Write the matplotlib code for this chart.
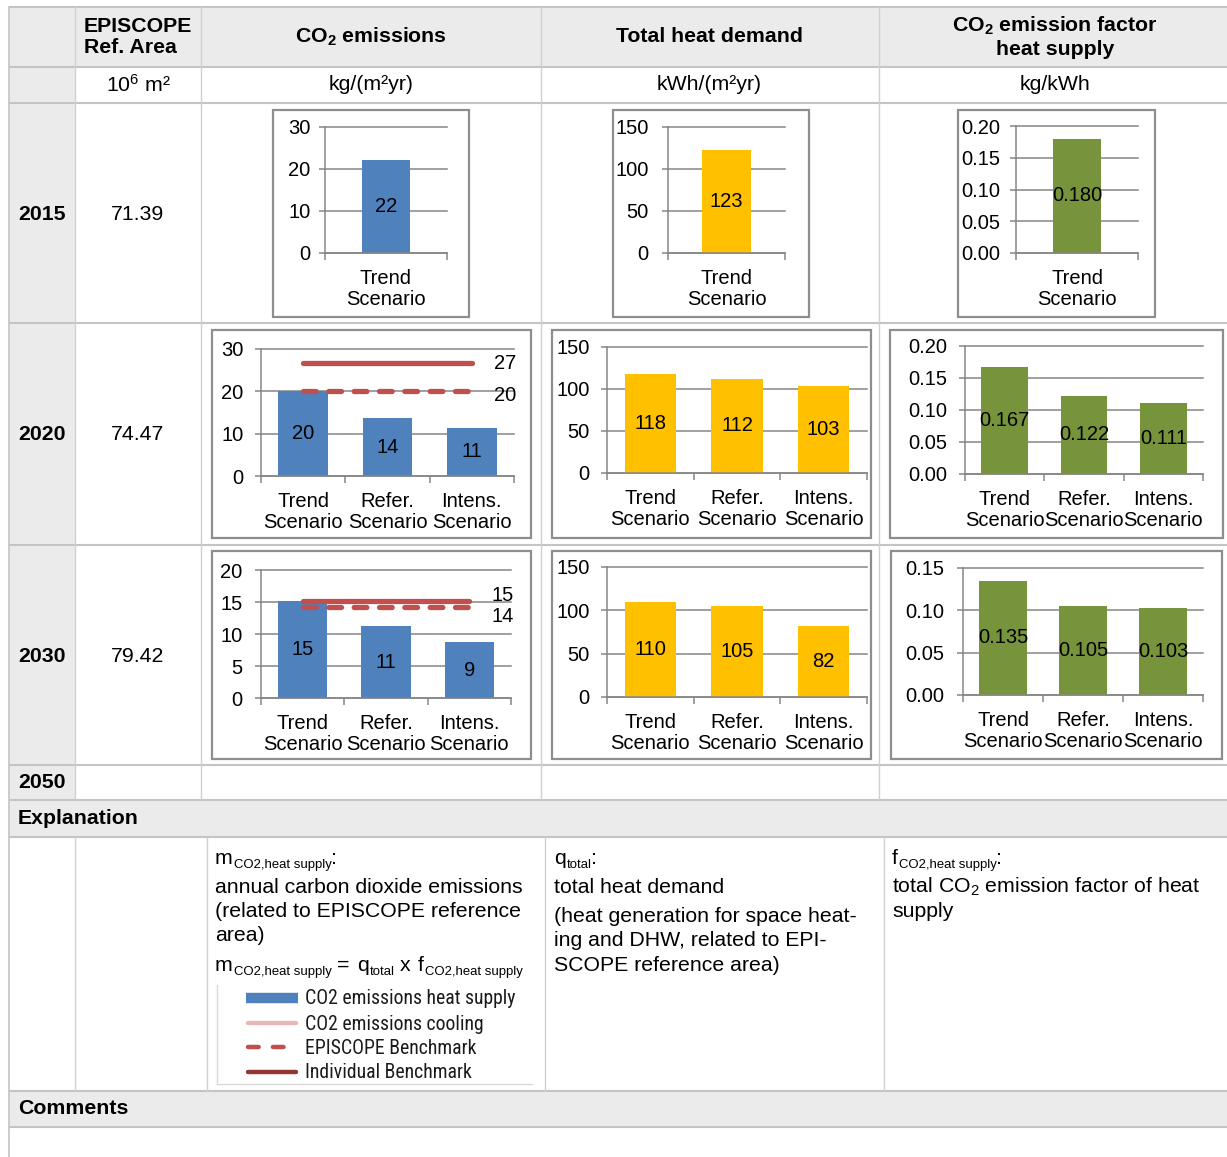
import numpy as np
import matplotlib
matplotlib.use('Agg')
import matplotlib.pyplot as plt
from matplotlib.patches import Rectangle
from matplotlib import font_manager as fm

# ---------------- data ----------------
years = ['2015', '2020', '2030', '2050']
ref_area = ['71.39', '74.47', '79.42', '']
area_header = 'EPISCOPE\nRef. Area'
column_titles = [r'CO$_{\mathbf{2}}$ emissions', 'Total heat demand',
                 r'CO$_{\mathbf{2}}$ emission factor' + '\nheat supply']
units = [r'10$^{\mathregular{6}}$ m²', 'kg/(m²yr)', 'kWh/(m²yr)', 'kg/kWh']

cats_2015 = ['Trend\nScenario']
cats_3 = ['Trend\nScenario', 'Refer.\nScenario', 'Intens.\nScenario']

co2_2015 = [22.1]
co2_2020 = [20.0, 13.6, 11.4]
co2_2030 = [15.2, 11.2, 8.7]
individual_bench_2020 = 26.6
episcope_bench_2020 = 20.1
individual_bench_2030 = 15.2
episcope_bench_2030 = 14.2

heat_2015 = [123]
heat_2020 = [118, 112, 103]
heat_2030 = [110, 105, 82]

fac_2015 = [0.180]
fac_2020 = [0.167, 0.122, 0.111]
fac_2030 = [0.135, 0.105, 0.103]

legend_labels = ['CO2 emissions heat supply', 'CO2 emissions cooling',
                 'EPISCOPE Benchmark', 'Individual Benchmark']

# explanation texts: (text, kind) with kind n = normal, s = subscript, g = space
expl_co2_head = [('m', 'n'), ('CO2,heat supply', 's'), (':', 'n')]
expl_co2_body = ['annual carbon dioxide emissions', '(related to EPISCOPE reference', 'area)']
expl_co2_formula = [('m', 'n'), ('CO2,heat supply', 's'), ('', 'g'), ('=', 'n'), ('', 'g'),
                    ('q', 'n'), ('total', 's'), ('', 'g'), ('x', 'n'), ('', 'g'),
                    ('f', 'n'), ('CO2,heat supply', 's')]
expl_heat_head = [('q', 'n'), ('total', 's'), (':', 'n')]
expl_heat_body = ['total heat demand']
expl_heat_body2 = ['(heat generation for space heat-', 'ing and DHW, related to EPI-',
                   'SCOPE reference area)']
expl_fac_head = [('f', 'n'), ('CO2,heat supply', 's'), (':', 'n')]
expl_fac_body = [r'total CO$_{\mathregular{2}}$ emission factor of heat', 'supply']

# ---------------- style ----------------
W, H = 1227, 1157
plt.rcParams['font.family'] = ['Liberation Sans', 'DejaVu Sans']
plt.rcParams['mathtext.fontset'] = 'custom'
plt.rcParams['mathtext.rm'] = 'Liberation Sans'
plt.rcParams['mathtext.it'] = 'Liberation Sans:italic'
plt.rcParams['mathtext.bf'] = 'Liberation Sans:bold'

names = {f.name for f in fm.fontManager.ttflist}
if 'Liberation Sans Narrow' in names:
    NARROW, NARROW_SIZE = ['Liberation Sans Narrow', 'DejaVu Sans'], 14.4
elif 'Roboto Condensed' in names:
    NARROW, NARROW_SIZE = ['Roboto Condensed', 'DejaVu Sans'], 14.2
else:
    NARROW, NARROW_SIZE = ['Liberation Sans', 'DejaVu Sans'], 12.2

BLUE, GOLD, GREEN = '#4F81BD', '#FFC000', '#77933C'
RED, PINK, DARKRED = '#C0504D', '#E6B9B8', '#943634'
GRID, BOX = '#868686', '#8E8E8E'
CELL_BG, TABLE_LINE = '#EBEBEB', '#C4C4C4'
TXT = 15.3
CHART_TXT = 14.5

fig = plt.figure(figsize=(W / 100, H / 100), dpi=100)
base = fig.add_axes([0, 0, 1, 1])
base.set_xlim(0, W)
base.set_ylim(H, 0)
base.axis('off')
renderer = fig.canvas.get_renderer()


def rich(x, y, parts, fontsize):
    """Draw text pieces with subscripts along a baseline (base axes units = pixels)."""
    space = 0.278 * fontsize * 100 / 72
    for txt, kind in parts:
        if kind == 'g':
            x += space
            continue
        if kind == 's':
            t = base.text(x, y + 4, txt, fontsize=fontsize * 0.62, ha='left', va='baseline')
            x += t.get_window_extent(renderer).width - 1.0
        else:
            t = base.text(x, y, txt, fontsize=fontsize, ha='left', va='baseline')
            x += t.get_window_extent(renderer).width + 1.5


# ---------------- table ----------------
for (x0, y0, x1, y1) in [(9, 7, W, 67), (9, 67, 75, 800), (9, 800, W, 837), (9, 1091, W, 1127)]:
    base.add_patch(Rectangle((x0, y0), x1 - x0, y1 - y0, color=CELL_BG, lw=0, zorder=0))

for y in [7, 67, 103, 323, 545, 765, 800, 837, 1091, 1127]:
    base.plot([9, W], [y, y], color=TABLE_LINE, lw=1.5, zorder=1, solid_capstyle='butt')
base.plot([9, 9], [7, H], color=TABLE_LINE, lw=1.2, zorder=1)
for x in [75, 201, 541, 879]:
    base.plot([x, x], [7, 800], color='#D0D0D0', lw=1.0, zorder=1)
for x in [75, 207, 545, 884]:
    base.plot([x, x], [837, 1091], color='#D0D0D0', lw=1.0, zorder=1)

col_centers = [138, 371, 709, 1055]
base.text(col_centers[0], 37, area_header, ha='center', va='center', multialignment='left',
          fontsize=TXT, fontweight='bold', linespacing=1.17)
for cx, t in zip(col_centers[1:], column_titles):
    base.text(cx, 37, t, ha='center', va='center', multialignment='center',
              fontsize=TXT, fontweight='bold', linespacing=1.17)
for cx, u in zip(col_centers, units):
    base.text(cx, 85, u, ha='center', va='center', fontsize=TXT)

row_centers = [214, 435, 656, 783]
for yc, yr, ar in zip(row_centers, years, ref_area):
    base.text(18, yc, yr, ha='left', va='center', fontsize=TXT, fontweight='bold')
    if ar:
        base.text(col_centers[0], yc, ar, ha='center', va='center', fontsize=TXT)

base.text(18, 819, 'Explanation', ha='left', va='center', fontsize=TXT, fontweight='bold')
base.text(18, 1109, 'Comments', ha='left', va='center', fontsize=TXT, fontweight='bold')

# explanation texts (baselines)
rich(215, 864, expl_co2_head, TXT)
for i, line in enumerate(expl_co2_body):
    base.text(215, 893 + i * 24, line, ha='left', va='baseline', fontsize=TXT)
rich(215, 971, expl_co2_formula, TXT)

rich(554, 864, expl_heat_head, TXT)
base.text(554, 893, expl_heat_body[0], ha='left', va='baseline', fontsize=TXT)
for i, line in enumerate(expl_heat_body2):
    base.text(554, 922 + i * 24.5, line, ha='left', va='baseline', fontsize=TXT)

rich(892, 864, expl_fac_head, TXT)
for i, line in enumerate(expl_fac_body):
    base.text(892, 893 + i * 24, line, ha='left', va='baseline', fontsize=TXT)

# legend picture
base.plot([217, 217], [985, 1084], color='#D9D9D9', lw=1.0)
base.plot([217, 532], [1084, 1084], color='#D9D9D9', lw=1.0)
leg_y = [998, 1023, 1047, 1072]
base.plot([246, 298], [leg_y[0], leg_y[0]], color=BLUE, lw=7.5, solid_capstyle='butt')
base.plot([248, 296], [leg_y[1], leg_y[1]], color=PINK, lw=3.2, solid_capstyle='round')
base.plot([248, 296], [leg_y[2], leg_y[2]], color=RED, lw=3.2, linestyle=(0, (2.4, 3.2)),
          dash_capstyle='round')
base.plot([248, 296], [leg_y[3], leg_y[3]], color=DARKRED, lw=3.2, solid_capstyle='round')
for y, lab in zip(leg_y, legend_labels):
    base.text(305, y + 1, lab, ha='left', va='center', fontsize=NARROW_SIZE, family=NARROW,
              color='#1A1A1A')


# ---------------- charts ----------------
def chart(box, area, cats, vals, color, ymax, step, tick_fmt, val_fmt, width, ypad,
          benches=(), bench_offsets=()):
    bx0, by0, bx1, by1 = box
    base.add_patch(Rectangle((bx0, by0), bx1 - bx0, by1 - by0, fill=False, ec=BOX, lw=1.6,
                             zorder=5))
    x0, y0, x1, y1 = area
    ax = fig.add_axes([x0 / W, 1 - y1 / H, (x1 - x0) / W, (y1 - y0) / H])
    ax.set_facecolor('none')
    n = len(vals)
    xs = np.arange(n)
    ticks = np.arange(0, ymax + step * 0.5, step)
    for t in ticks:
        ax.axhline(t, color=GRID, lw=1.1, zorder=0.5, clip_on=False)
    ax.bar(xs, vals, width=width, color=color, zorder=2)
    for xi, v in zip(xs, vals):
        ax.text(xi, v / 2, val_fmt.format(v), ha='center', va='center', fontsize=CHART_TXT,
                zorder=4)
    for (b, style), (dx, dy) in zip(benches, bench_offsets):
        if style == 'solid':
            ax.plot([xs[0], xs[-1]], [b, b], color=RED, lw=3.8, solid_capstyle='round', zorder=3)
        else:
            ax.plot([xs[0], xs[-1]], [b, b], color=RED, lw=3.8, linestyle=(0, (2.4, 2.4)),
                    dash_capstyle='round', zorder=3)
        ax.annotate('{:.0f}'.format(b), xy=(xs[-1], b), xytext=(dx, dy),
                    textcoords='offset points', ha='left', va='center', fontsize=CHART_TXT,
                    annotation_clip=False)
    ax.set_xlim(-0.5, n - 0.5)
    ax.set_ylim(0, ymax)
    for s in ['top', 'right']:
        ax.spines[s].set_visible(False)
    for s in ['left', 'bottom']:
        ax.spines[s].set_color(GRID)
        ax.spines[s].set_linewidth(1.1)
    ax.set_yticks(ticks, labels=[tick_fmt.format(t) for t in ticks])
    ax.tick_params(axis='y', length=4, width=1.1, color=GRID, pad=ypad, labelsize=CHART_TXT)
    ax.set_xticks(np.arange(n + 1) - 0.5, labels=[''] * (n + 1))
    ax.set_xticks(xs, labels=cats, minor=True)
    ax.tick_params(axis='x', which='major', length=5, width=1.1, color=GRID)
    ax.tick_params(axis='x', which='minor', length=0, pad=11.5, labelsize=CHART_TXT)
    for lbl in ax.get_xticklabels(minor=True):
        lbl.set_linespacing(1.12)
    return ax


# 2015
chart((273, 110, 469, 317), (325, 127, 447, 253), cats_2015, co2_2015, BLUE, 30, 10,
      '{:.0f}', '{:.0f}', 0.4, 6.5)
chart((613, 110, 809, 317), (668, 127, 785, 253), cats_2015, heat_2015, GOLD, 150, 50,
      '{:.0f}', '{:.0f}', 0.42, 10)
chart((958, 110, 1155, 317), (1016, 126, 1138, 253), cats_2015, fac_2015, GREEN, 0.20, 0.05,
      '{:.2f}', '{:.3f}', 0.4, 7)
# 2020
chart((212, 330, 531, 538), (261, 349, 514, 476), cats_3, co2_2020, BLUE, 30, 10,
      '{:.0f}', '{:.0f}', 0.59, 8.6,
      benches=[(individual_bench_2020, 'solid'), (episcope_bench_2020, 'dashed')],
      bench_offsets=[(16, 0), (16, -3)])
chart((552, 330, 871, 538), (607, 347, 867, 473), cats_3, heat_2020, GOLD, 150, 50,
      '{:.0f}', '{:.0f}', 0.59, 8.6)
chart((890, 330, 1223, 538), (965, 346, 1203, 474), cats_3, fac_2020, GREEN, 0.20, 0.05,
      '{:.2f}', '{:.3f}', 0.59, 9.0)
# 2030
chart((212, 551, 531, 759), (261, 570, 511, 698), cats_3, co2_2030, BLUE, 20, 5,
      '{:.0f}', '{:.0f}', 0.59, 9.4,
      benches=[(individual_bench_2030, 'solid'), (episcope_bench_2030, 'dashed')],
      bench_offsets=[(16, 3.5), (16, -6.5)])
chart((552, 551, 871, 759), (607, 567, 867, 697), cats_3, heat_2030, GOLD, 150, 50,
      '{:.0f}', '{:.0f}', 0.59, 8.6)
chart((891, 551, 1222, 759), (963, 568, 1203, 695), cats_3, fac_2030, GREEN, 0.15, 0.05,
      '{:.2f}', '{:.3f}', 0.59, 9.4)

fig.savefig('out.png', dpi=100, facecolor='white')
